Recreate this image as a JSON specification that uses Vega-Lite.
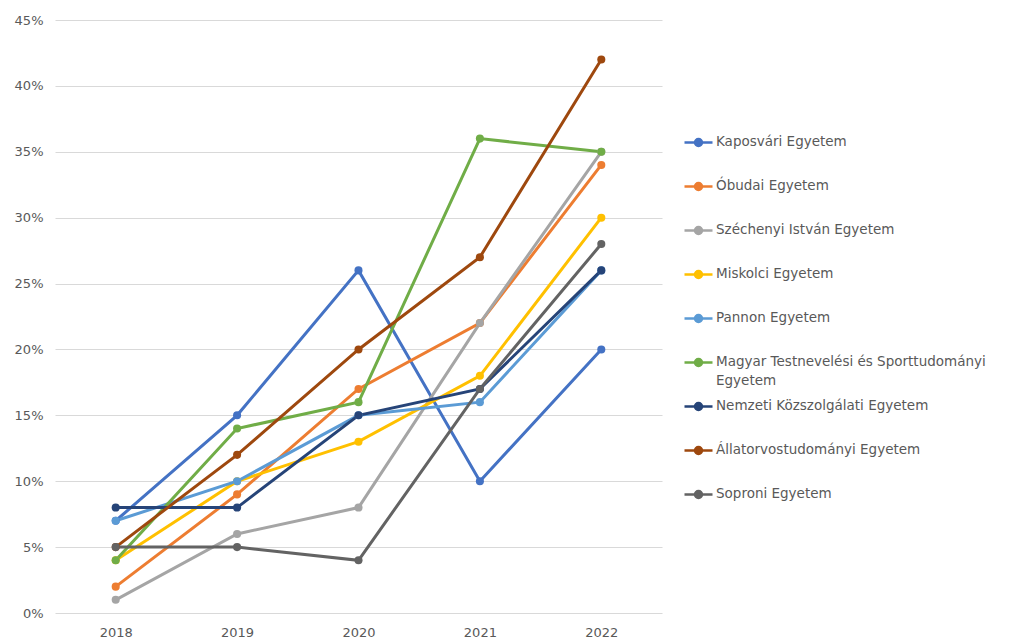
{
  "$schema": "https://vega.github.io/schema/vega-lite/v6.json",
  "width": 607,
  "height": 593,
  "autosize": {"type": "none"},
  "padding": {"left": 55, "top": 20, "right": 352, "bottom": 26},
  "background": "white",
  "config": {"view": {"stroke": null}, "font": "DejaVu Sans"},
  "data": {
    "values": [
      {"uni": "Kaposvári Egyetem", "year": "2018", "value": 0.07},
      {"uni": "Kaposvári Egyetem", "year": "2019", "value": 0.15},
      {"uni": "Kaposvári Egyetem", "year": "2020", "value": 0.26},
      {"uni": "Kaposvári Egyetem", "year": "2021", "value": 0.10},
      {"uni": "Kaposvári Egyetem", "year": "2022", "value": 0.20},
      {"uni": "Óbudai Egyetem", "year": "2018", "value": 0.02},
      {"uni": "Óbudai Egyetem", "year": "2019", "value": 0.09},
      {"uni": "Óbudai Egyetem", "year": "2020", "value": 0.17},
      {"uni": "Óbudai Egyetem", "year": "2021", "value": 0.22},
      {"uni": "Óbudai Egyetem", "year": "2022", "value": 0.34},
      {"uni": "Széchenyi István Egyetem", "year": "2018", "value": 0.01},
      {"uni": "Széchenyi István Egyetem", "year": "2019", "value": 0.06},
      {"uni": "Széchenyi István Egyetem", "year": "2020", "value": 0.08},
      {"uni": "Széchenyi István Egyetem", "year": "2021", "value": 0.22},
      {"uni": "Széchenyi István Egyetem", "year": "2022", "value": 0.35},
      {"uni": "Miskolci Egyetem", "year": "2018", "value": 0.04},
      {"uni": "Miskolci Egyetem", "year": "2019", "value": 0.10},
      {"uni": "Miskolci Egyetem", "year": "2020", "value": 0.13},
      {"uni": "Miskolci Egyetem", "year": "2021", "value": 0.18},
      {"uni": "Miskolci Egyetem", "year": "2022", "value": 0.30},
      {"uni": "Pannon Egyetem", "year": "2018", "value": 0.07},
      {"uni": "Pannon Egyetem", "year": "2019", "value": 0.10},
      {"uni": "Pannon Egyetem", "year": "2020", "value": 0.15},
      {"uni": "Pannon Egyetem", "year": "2021", "value": 0.16},
      {"uni": "Pannon Egyetem", "year": "2022", "value": 0.26},
      {"uni": "Magyar Testnevelési és Sporttudományi Egyetem", "year": "2018", "value": 0.04},
      {"uni": "Magyar Testnevelési és Sporttudományi Egyetem", "year": "2019", "value": 0.14},
      {"uni": "Magyar Testnevelési és Sporttudományi Egyetem", "year": "2020", "value": 0.16},
      {"uni": "Magyar Testnevelési és Sporttudományi Egyetem", "year": "2021", "value": 0.36},
      {"uni": "Magyar Testnevelési és Sporttudományi Egyetem", "year": "2022", "value": 0.35},
      {"uni": "Nemzeti Közszolgálati Egyetem", "year": "2018", "value": 0.08},
      {"uni": "Nemzeti Közszolgálati Egyetem", "year": "2019", "value": 0.08},
      {"uni": "Nemzeti Közszolgálati Egyetem", "year": "2020", "value": 0.15},
      {"uni": "Nemzeti Közszolgálati Egyetem", "year": "2021", "value": 0.17},
      {"uni": "Nemzeti Közszolgálati Egyetem", "year": "2022", "value": 0.26},
      {"uni": "Állatorvostudományi Egyetem", "year": "2018", "value": 0.05},
      {"uni": "Állatorvostudományi Egyetem", "year": "2019", "value": 0.12},
      {"uni": "Állatorvostudományi Egyetem", "year": "2020", "value": 0.20},
      {"uni": "Állatorvostudományi Egyetem", "year": "2021", "value": 0.27},
      {"uni": "Állatorvostudományi Egyetem", "year": "2022", "value": 0.42},
      {"uni": "Soproni Egyetem", "year": "2018", "value": 0.05},
      {"uni": "Soproni Egyetem", "year": "2019", "value": 0.05},
      {"uni": "Soproni Egyetem", "year": "2020", "value": 0.04},
      {"uni": "Soproni Egyetem", "year": "2021", "value": 0.17},
      {"uni": "Soproni Egyetem", "year": "2022", "value": 0.28}
    ]
  },
  "mark": {"type": "line", "strokeWidth": 3, "point": {"size": 65, "filled": true, "opacity": 1}},
  "encoding": {
    "x": {
      "field": "year", "type": "ordinal",
      "scale": {"type": "point", "padding": 0.5},
      "axis": {"title": null, "labelAngle": 0, "ticks": false, "domain": false, "grid": false,
               "labelFontSize": 13, "labelColor": "#595959", "labelPadding": 13}
    },
    "y": {
      "field": "value", "type": "quantitative",
      "scale": {"domain": [0, 0.45], "nice": false},
      "axis": {"title": null, "format": ".0%", "values": [0, 0.05, 0.1, 0.15, 0.2, 0.25, 0.3, 0.35, 0.4, 0.45],
               "ticks": false, "domain": false, "gridColor": "#d9d9d9", "gridWidth": 1,
               "labelFontSize": 13, "labelColor": "#595959", "labelPadding": 12}
    },
    "color": {
      "field": "uni", "type": "nominal", "sort": null,
      "scale": {
        "domain": ["Kaposvári Egyetem", "Óbudai Egyetem", "Széchenyi István Egyetem", "Miskolci Egyetem", "Pannon Egyetem", "Magyar Testnevelési és Sporttudományi Egyetem", "Nemzeti Közszolgálati Egyetem", "Állatorvostudományi Egyetem", "Soproni Egyetem"],
        "range": ["#4472C4", "#ED7D31", "#A5A5A5", "#FFC000", "#5B9BD5", "#70AD47", "#264478", "#9E480E", "#636363"]
      },
      "legend": {
        "title": null,
        "orient": "none",
        "legendX": 628,
        "legendY": 107,
        "symbolType": "M-1,0H1M-0.25,0a0.25,0.25 0 1,0 0.5,0a0.25,0.25 0 1,0 -0.5,0",
        "symbolSize": 784,
        "symbolStrokeWidth": 2.5,
        "labelFontSize": 13.5,
        "labelColor": "#595959",
        "labelLimit": 400,
        "labelOffset": 2,
        "labelBaseline": "top",
        "gridAlign": "all",
        "rowPadding": 4,
        "labelExpr": "datum.label == 'Magyar Testnevelési és Sporttudományi Egyetem' ? ['Magyar Testnevelési és Sporttudományi', 'Egyetem'] : datum.label",
        "encode": {
          "symbols": {"update": {"fill": {"scale": "color", "field": "value"}, "stroke": {"scale": "color", "field": "value"}, "opacity": {"value": 1}}},
          "labels": {"update": {"lineHeight": {"value": 19}, "dy": {"value": -8}}}
        }
      }
    }
  }
}
